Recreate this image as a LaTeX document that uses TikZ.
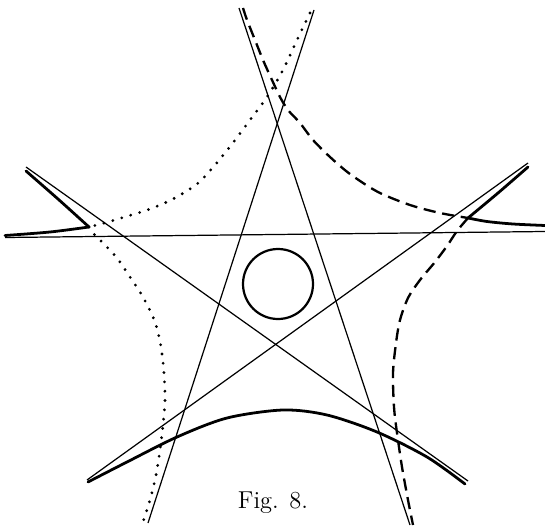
\documentclass[tikz,border=0pt]{standalone}
\usepackage{tikz}

\begin{document}
\begin{tikzpicture}[
  x=0.45pt, y=-0.45pt,
  ray/.style={line width=0.55pt},
  ring/.style={line width=1pt},
  branch/.style={line width=1.25pt, line cap=round, line join=round},
  dotbranch/.style={line width=1.4pt, line cap=round, dash pattern=on 0pt off 4.2pt},
  dashbranch/.style={line width=1.05pt, dash pattern=on 5.5pt off 3pt},
  caption/.style={font=\fontsize{11}{13}\selectfont, anchor=base}
]
  \useasboundingbox (0,0) rectangle (545,527);

  \coordinate (A1) at (239,8);
  \coordinate (A2) at (410,525);
  \coordinate (B1) at (314,10);
  \coordinate (B2) at (148,523);
  \coordinate (C1) at (26,167);
  \coordinate (C2) at (468,481);
  \coordinate (D1) at (528,163);
  \coordinate (D2) at (87,480);
  \coordinate (E1) at (5,237.5);
  \coordinate (E2) at (545,231.5);
  \coordinate (O) at (278,284);
  \coordinate (cornerL) at (89,227);
  \coordinate (cornerR) at (468,218);

  \draw[ray] (A1) -- (A2);
  \draw[ray] (B1) -- (B2);
  \draw[ray] (C1) -- (C2);
  \draw[ray] (D1) -- (D2);
  \draw[ray] (E1) -- (E2);

  \draw[ring] (O) circle[radius=35];

  \draw[branch] plot[smooth] coordinates {(88,482) (127,462) (177,437) (227,418) (283,410) (327,415) (377,432) (427,457) (465,484)};
  \draw[branch] plot[smooth] coordinates {(26,171) (58,199) (cornerL)};
  \draw[branch] plot[smooth] coordinates {(cornerL) (50,232) (5,235.5)};
  \draw[branch] plot[smooth] coordinates {(528,167) (498,193) (cornerR)};
  \draw[branch] plot[smooth] coordinates {(cornerR) (487,221.5) (513,224) (545,225.5)};

  \draw[dotbranch] plot[smooth] coordinates {(310,13) (297,40) (283,70) (267,97) (250,120) (232,144) (215,165) (197,184) (173,199) (150,209) (128,216) (108,222) (cornerL)};
  \draw[dotbranch] plot[smooth] coordinates {(cornerL) (93,233) (103,243) (117,258) (130,277) (143,297) (155,322) (161,347) (164,373) (165,400) (163,425) (160,450) (156,475) (150,500) (142,525)};

  \draw[dashbranch] plot[smooth] coordinates {(243,8) (247,20) (255,40) (263,60) (272,80) (280,97) (288,110) (300,123) (313,140) (330,157) (350,174) (378,192) (410,205) (440,213) (cornerR)};
  \draw[dashbranch] plot[smooth] coordinates {(cornerR) (457,231) (447,246) (435,262) (420,280) (408,298) (400,320) (396,343) (393,373) (394,407) (397,433) (402,467) (408,500) (413,525)};

  \node[caption] (fig) at (273,508) {Fig. 8.};
\end{tikzpicture}
\end{document}
